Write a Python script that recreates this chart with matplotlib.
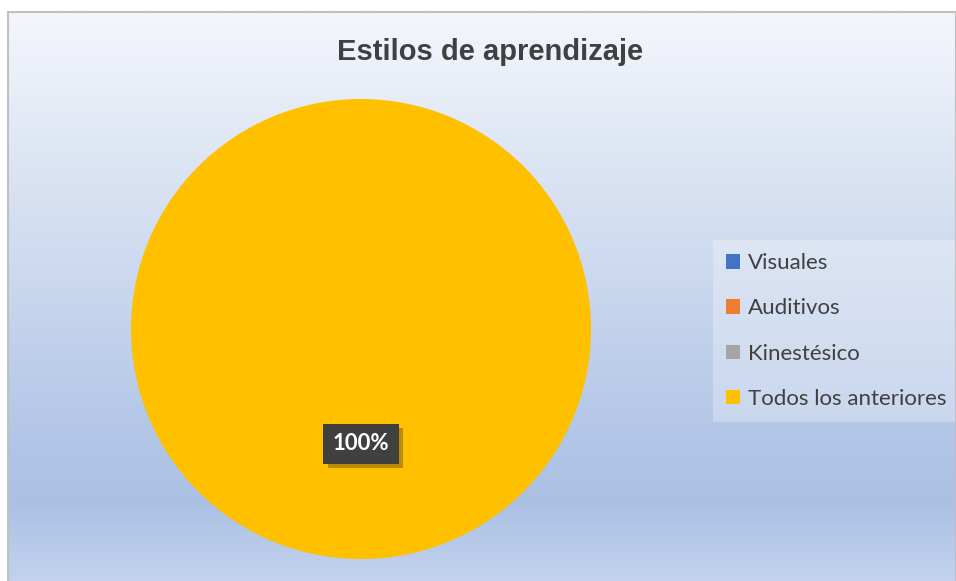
import matplotlib
matplotlib.use("Agg")
import matplotlib.pyplot as plt
import numpy as np
from matplotlib.colors import LinearSegmentedColormap
from matplotlib.patches import Rectangle, Patch
import matplotlib.patheffects as pe

categories = ["Visuales", "Auditivos", "Kinestésico", "Todos los anteriores"]
values = [0, 0, 0, 100]
colors = ["#4472C4", "#ED7D31", "#A5A5A5", "#FFC000"]
title = "Estilos de aprendizaje"

W, H = 956, 581
fig = plt.figure(figsize=(W / 100, H / 100), dpi=100)
fig.patch.set_facecolor("white")

# frame background gradient
fx0, fy0 = 8 / W, -3 / H
fw, fh = (W - 8) / W, (H - 12 + 3) / H
bg = fig.add_axes([fx0, fy0, fw, fh])
cmap = LinearSegmentedColormap.from_list(
    "bg", [(0.0, "#C3D3EE"), (0.14, "#ABC1E4"), (0.24, "#B1C5E6"), (1.0, "#F4F6FB")])
grad = np.linspace(0, 1, 512).reshape(-1, 1)
bg.imshow(grad, aspect="auto", cmap=cmap, origin="lower", extent=[0, 1, 0, 1])
bg.set_xlim(0, 1)
bg.set_ylim(0, 1)
bg.axis("off")
fig.patches.append(Rectangle((fx0, fy0), fw, fh, transform=fig.transFigure,
                             fill=False, edgecolor="#BFBFBF", linewidth=1.5, zorder=10))

# pie
cx, cy, r = 361, 329, 230
ax = fig.add_axes([(cx - r) / W, (H - cy - r) / H, 2 * r / W, 2 * r / H])
ax.set_facecolor("none")

def fmt(p):
    return f"{p:.0f}%" if p > 0 else ""

wedges, _, texts = ax.pie(values, colors=colors, startangle=90, counterclock=False,
                          autopct=fmt, pctdistance=0.5, radius=1.0,
                          textprops=dict(color="white", fontsize=16, fontweight="bold",
                                         family="Lato"))
ax.set_xlim(-1, 1)
ax.set_ylim(-1, 1)
ax.set_aspect("equal")
for t in texts:
    if t.get_text():
        t.set_bbox(dict(boxstyle="square,pad=0.42", facecolor="#404040", edgecolor="none"))
        t.get_bbox_patch().set_path_effects([
            pe.SimplePatchShadow(offset=(3, -3), shadow_rgbFace="#6a4e00", alpha=0.45),
            pe.Normal()])

fig.text(490 / W, 1 - 52 / H, title, ha="center", va="center", fontsize=21,
         fontweight="bold", color="#404040", family="Liberation Sans")

handles = [Patch(facecolor=c, edgecolor="none") for c in colors]
leg = fig.legend(handles, categories, loc="upper left",
                 bbox_to_anchor=(713 / W, 1 - 240 / H), frameon=True, fancybox=False,
                 handlelength=0.62, handleheight=0.62, handletextpad=0.35,
                 labelspacing=1.13, borderpad=0.6, borderaxespad=0,
                 facecolor="white", edgecolor="none", framealpha=0.28,
                 prop=dict(family="Lato", size=16), labelcolor="#404040")

fig.savefig("out.png", dpi=100)
